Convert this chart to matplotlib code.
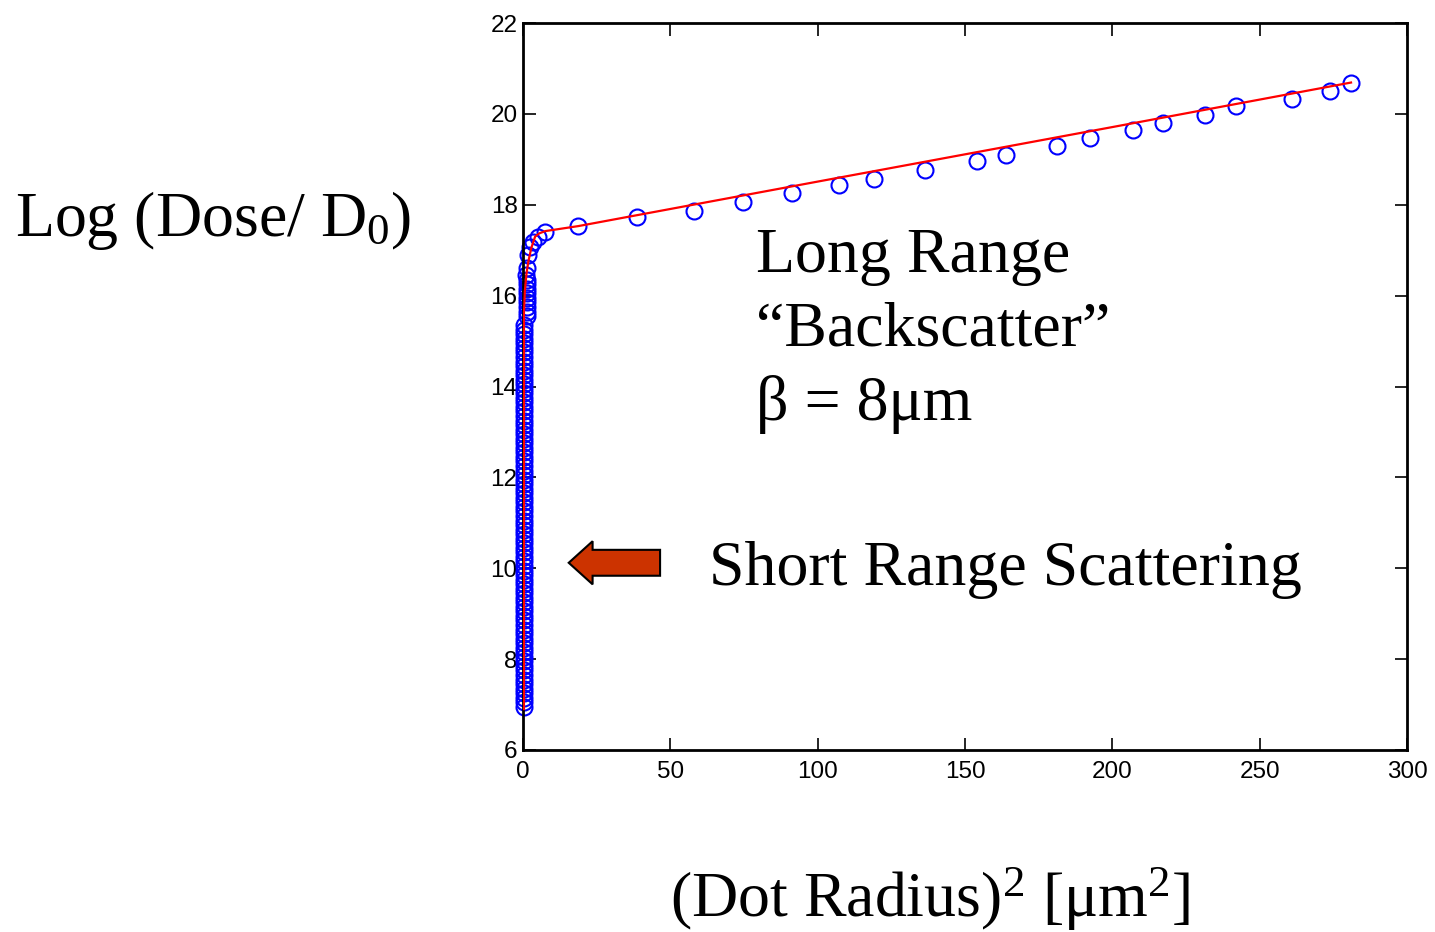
import matplotlib.pyplot as plt
from matplotlib.patches import FancyArrow

plt.rcParams['mathtext.fontset'] = 'custom'
plt.rcParams['mathtext.rm'] = 'Liberation Serif'
plt.rcParams['mathtext.it'] = 'Liberation Serif:italic'

# measured points: dense column near r^2 ~ 0 (short range part)
col_y = [6.95, 7.05, 7.15, 7.25, 7.35, 7.45, 7.55, 7.65, 7.75, 7.85,
         7.95, 8.05, 8.15, 8.25, 8.35, 8.45, 8.55, 8.65, 8.75, 8.85,
         8.95, 9.05, 9.15, 9.25, 9.35, 9.45, 9.55, 9.65, 9.75, 9.85,
         9.95, 10.05, 10.15, 10.25, 10.35, 10.45, 10.55, 10.65, 10.75, 10.85,
         10.95, 11.05, 11.15, 11.25, 11.35, 11.45, 11.55, 11.65, 11.75, 11.85,
         11.95, 12.05, 12.15, 12.25, 12.35, 12.45, 12.55, 12.65, 12.75, 12.85,
         12.95, 13.05, 13.15, 13.25, 13.35, 13.45, 13.55, 13.65, 13.75, 13.85,
         13.95, 14.05, 14.15, 14.25, 14.35, 14.45, 14.55, 14.65, 14.75, 14.85,
         14.95, 15.05, 15.15, 15.25, 15.35]
col_x = [0.35] * len(col_y)
upper_y = [15.55, 15.65, 15.75, 15.85, 15.95, 16.05, 16.15, 16.25, 16.35, 16.45, 16.6]
upper_x = [1.4, 1.4, 1.4, 1.4, 1.4, 1.4, 1.4, 1.3, 1.2, 1.1, 1.2]

# knee + long range points
r2 = [1.6, 2.4, 3.4, 5.1, 7.5, 18.7, 38.7, 58.0, 74.7, 91.3, 107.2, 119.1,
      136.4, 154.1, 163.9, 181.2, 192.4, 207.0, 217.2, 231.4, 241.9,
      260.9, 273.8, 280.9]
logd = [16.9, 17.07, 17.18, 17.29, 17.40, 17.53, 17.73, 17.86, 18.06, 18.26,
        18.43, 18.57, 18.76, 18.96, 19.09, 19.29, 19.47, 19.64, 19.80,
        19.97, 20.17, 20.33, 20.50, 20.68]

# fitted curve
fit_x = [0.3, 0.3, 0.6, 1.2, 1.8, 2.8, 4.1, 5.5, 7.5, 18.7, 100.0, 200.0, 281.0]
fit_y = [6.9, 15.6, 16.1, 16.5, 16.75, 17.05, 17.3, 17.37, 17.42, 17.53, 18.51, 19.71, 20.69]

fig = plt.figure(figsize=(14.35, 9.32), dpi=100)
ax = fig.add_axes([0.3645, 0.1953, 0.616, 0.78])

ax.plot(col_x + upper_x + r2, col_y + upper_y + logd, 'o', mfc='none', mec='blue',
        ms=11.5, mew=1.5, zorder=2, clip_on=False)
ax.plot(fit_x, fit_y, color='red', lw=1.6, zorder=3)

ax.set_xlim([0, 300])
ax.set_ylim([6, 22])
ax.set_xticks([0, 50, 100, 150, 200, 250, 300])
ax.set_yticks([6, 8, 10, 12, 14, 16, 18, 20, 22])
ax.tick_params(direction='in', length=9, width=1.2, top=True, right=True,
               labelsize=17.5)
ax.tick_params(axis='x', pad=8)
ax.tick_params(axis='y', pad=4)
for lab in ax.get_xticklabels() + ax.get_yticklabels():
  lab.set_fontfamily('Liberation Sans')
for s in ax.spines.values():
  s.set_linewidth(2)

arrow = FancyArrow(46.5, 10.12, -31.0, 0, width=0.57, head_width=0.95,
                   head_length=8.1, length_includes_head=True,
                   fc='#CC3300', ec='black', lw=1.5, zorder=4)
ax.add_patch(arrow)

serif = 'Liberation Serif'
fs = 46
fig.text(0.0105, 0.747, r'Log (Dose/ D$_{\mathrm{0}}$)', family=serif, fontsize=fs, va='baseline')
fig.text(0.527, 0.708, 'Long Range', family=serif, fontsize=fs, va='baseline')
fig.text(0.527, 0.629, '\u201cBackscatter\u201d', family=serif, fontsize=fs, va='baseline')
fig.text(0.527, 0.549, '\u03b2 = 8\u03bcm', family=serif, fontsize=fs, va='baseline')
fig.text(0.494, 0.372, 'Short Range Scattering', family=serif, fontsize=fs, va='baseline')
fig.text(0.648, 0.016, '(Dot Radius)$^{\\mathrm{2}}$ [\u03bcm$^{\\mathrm{2}}$]',
         family=serif, fontsize=fs, va='baseline', ha='center')

plt.savefig('out.png')
